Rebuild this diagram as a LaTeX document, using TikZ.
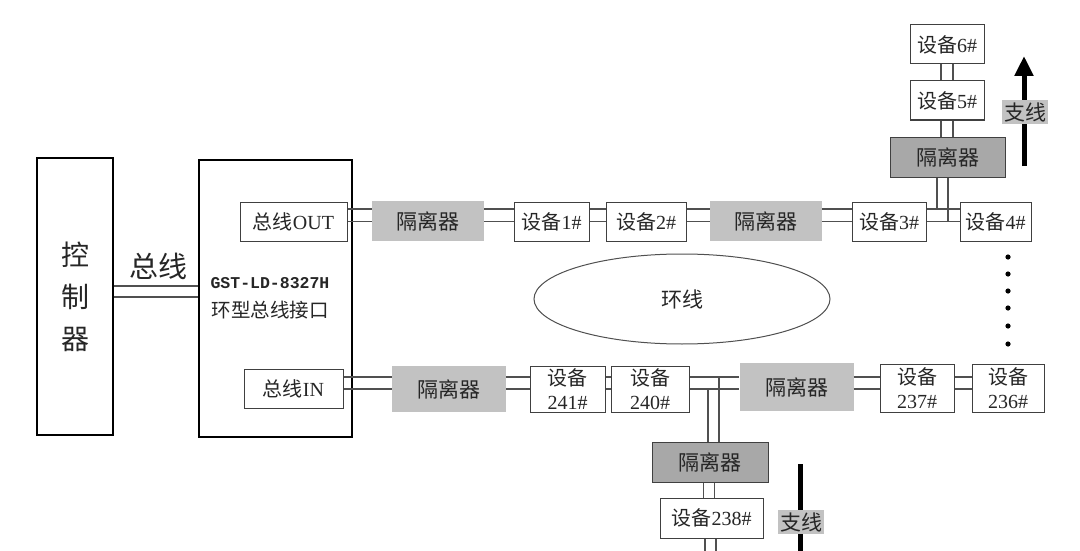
\documentclass[tikz,border=0pt]{standalone}
\usepackage{fontspec}
\setmainfont{Liberation Serif}
\newfontfamily\cjk{Noto Sans CJK SC}
\newfontfamily\monob{Liberation Mono}
\usetikzlibrary{shapes.geometric,arrows.meta}
\definecolor{bdr}{HTML}{404040}
\definecolor{wirec}{HTML}{505050}
\definecolor{isog}{HTML}{C2C2C2}
\definecolor{isod}{HTML}{A8A8A8}
\definecolor{txt}{HTML}{262626}
\begin{document}
\begin{tikzpicture}[x=1pt,y=-1pt,
  box/.style={draw=bdr, fill=white, line width=1pt, inner sep=0pt, text=txt, font=\fontsize{20}{24}\selectfont},
  bigbox/.style={box, draw=black, line width=1.6pt},
  dbox/.style={box, minimum height=39pt},
  tbox/.style={box, minimum height=46pt, align=center},
  iso/.style={fill=isog, inner sep=0pt, minimum height=40pt, minimum width=112pt, text=txt, font=\cjk\fontsize{21}{24}\selectfont},
  isob/.style={iso, fill=isod, draw=bdr, line width=1pt},
  wire/.style={draw=wirec, line width=1.1pt},
  tag/.style={fill=isog, inner sep=2pt, text=txt, font=\cjk\fontsize{21}{24}\selectfont},
  bigarrow/.style={line width=5pt, draw=black}
]
\useasboundingbox (0,0) rectangle (1080,551);
\fill[white] (0,0) rectangle (1080,551);

% controller and interface
\node[bigbox, minimum width=76pt, minimum height=277pt, align=center, font=\cjk\fontsize{28}{42}\selectfont] (ctrl) at (75,296.5) {控\\制\\器};
\node[bigbox, minimum width=153pt, minimum height=277pt] (iface) at (275.5,298.5) {};
\node[dbox, minimum width=107pt] (out) at (293.5,221.5) {{\cjk 总线}OUT};
\node[dbox, minimum width=99pt] (in) at (293.5,388.5) {{\cjk 总线}IN};
\node[text=txt, inner sep=0pt, font=\monob\bfseries\fontsize{16.5}{18}\selectfont] (gst) at (270,283) {GST-LD-8327H};
\node[text=txt, inner sep=0pt, font=\cjk\fontsize{19.5}{22}\selectfont] (ifname) at (270,310) {环型总线接口};
\node[text=txt, inner sep=0pt, font=\cjk\fontsize{29}{30}\selectfont] (buslbl) at (158,266) {总线};

% top row
\node[iso] (iso1) at (428,221) {隔离器};
\node[dbox, minimum width=75pt] (d1) at (551.5,221.5) {{\cjk 设备}1\#};
\node[dbox, minimum width=80pt] (d2) at (646,221.5) {{\cjk 设备}2\#};
\node[iso] (iso2) at (766,221) {隔离器};
\node[dbox, minimum width=74pt] (d3) at (889,221.5) {{\cjk 设备}3\#};
\node[dbox, minimum width=71pt] (d4) at (995.5,221.5) {{\cjk 设备}4\#};
% top branch
\node[isob, minimum width=115pt] (isoT) at (947.5,157) {隔离器};
\node[dbox, minimum width=74pt] (d5) at (947,100.5) {{\cjk 设备}5\#};
\node[dbox, minimum width=74pt] (d6) at (947,44.5) {{\cjk 设备}6\#};

% bottom row
\node[iso, minimum width=114pt, minimum height=46pt] (iso3) at (449,389) {隔离器};
\node[tbox, minimum width=75pt] (d241) at (567.5,389) {{\cjk 设备}\\241\#};
\node[tbox, minimum width=78pt] (d240) at (650,389) {{\cjk 设备}\\240\#};
\node[iso, minimum width=114pt, minimum height=48pt] (iso4) at (796.5,387) {隔离器};
\node[tbox, minimum width=74pt, minimum height=48pt] (d237) at (917,388) {{\cjk 设备}\\237\#};
\node[tbox, minimum width=72pt, minimum height=48pt] (d236) at (1008,388) {{\cjk 设备}\\236\#};
% bottom branch
\node[isob, minimum width=116pt] (isoB) at (710,462) {隔离器};
\node[dbox, minimum width=103pt, minimum height=40pt] (d238) at (711.5,518) {{\cjk 设备}238\#};

% ring
\node[ellipse, draw=wirec, line width=1pt, minimum width=296pt, minimum height=90pt, inner sep=0pt, text=txt, font=\cjk\fontsize{21}{24}\selectfont] (ring) at (682,299) {环线};

% bus between controller and interface
\foreach \y in {286,297} {\draw[wire] (ctrl.east|-0,\y) -- (iface.west|-0,\y);}

% top row wires
\foreach \a/\b in {out/iso1, iso1/d1, d1/d2, d2/iso2, iso2/d3, d3/d4} {
  \foreach \y in {209,221.5} {\draw[wire] (\a.east|-0,\y) -- (\b.west|-0,\y);}
}
% bottom row wires
\foreach \a/\b in {in/iso3, iso3/d241, d241/d240, d240/iso4, iso4/d237, d237/d236} {
  \foreach \y in {377,389} {\draw[wire] (\a.east|-0,\y) -- (\b.west|-0,\y);}
}

% top branch wires
\coordinate (tj1) at (937,209);
\coordinate (tj2) at (948,221.5);
\draw[wire] (tj1|-isoT.south) -- (tj1);
\draw[wire] (tj2|-isoT.south) -- (tj2);
\foreach \s in {-6,6} {
  \draw[wire] ([xshift=\s]d5.south) -- ([xshift=\s]d5.south|-isoT.north);
  \draw[wire] ([xshift=\s]d6.south) -- ([xshift=\s]d6.south|-d5.north);
}

% bottom branch wires
\coordinate (bj1) at (708,389);
\coordinate (bj2) at (719,377);
\draw[wire] (bj1) -- (bj1|-isoB.north);
\draw[wire] (bj2) -- (bj2|-isoB.north);
\coordinate (bend) at (0,551);
\foreach \s in {-6.5,4.5} {
  \draw[wire] ([xshift=\s]isoB.south) -- ([xshift=\s]isoB.south|-d238.north);
  \draw[wire] ([xshift=\s]d238.south) -- ([xshift=\s]d238.south|-bend);
}

% ellipsis dots
\foreach \y in {257,274,291,308,326,344} {\fill[black] (1008,\y) circle (2.6);}

% branch arrows
\coordinate (aT0) at (1024,166);
\coordinate (aT1) at (1024,56);
\draw[bigarrow, -{Triangle[width=18pt,length=20pt]}] (aT0) -- (aT1);
\node[tag] (tagT) at (1025,112) {支线};
\coordinate (aB0) at (800,464);
\coordinate (aB1) at (800,551);
\draw[bigarrow] (aB0) -- (aB1);
\node[tag] (tagB) at (801,522) {支线};
\end{tikzpicture}
\end{document}
